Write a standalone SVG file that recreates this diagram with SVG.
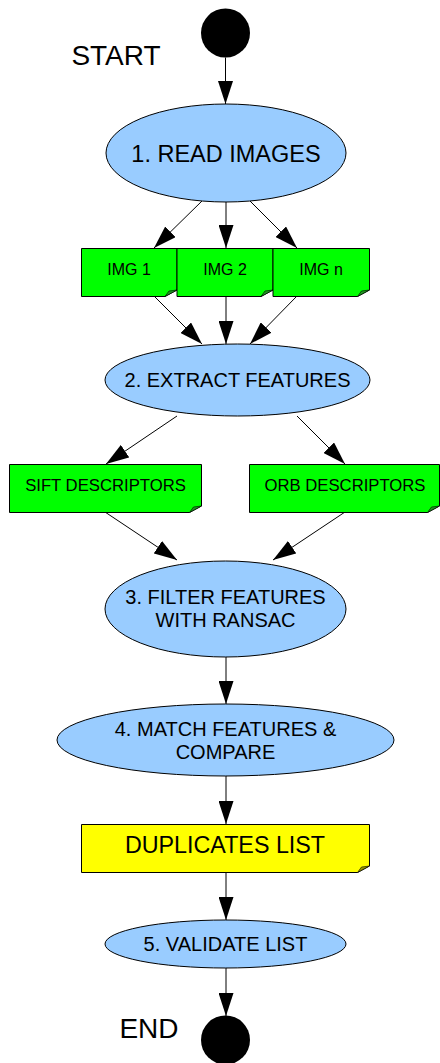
<svg xmlns="http://www.w3.org/2000/svg" width="440" height="1063" viewBox="0 0 440 1063">
<defs>
<style>
text{font-family:"Liberation Sans",Arial,sans-serif;fill:#000;text-anchor:middle}
.oval{fill:#99ccff;stroke:#000;stroke-width:1}
.doc{fill:#00ff00;stroke:#000;stroke-width:1}
.docy{fill:#ffff00;stroke:#000;stroke-width:1}
.fold{fill:#229922;stroke:#000;stroke-width:0.6}
.foldy{fill:#999900;stroke:#000;stroke-width:0.6}
.term{fill:#000}
.edge{stroke:#000;stroke-width:1;fill:none;marker-end:url(#arr)}
</style>
<marker id="arr" markerUnits="userSpaceOnUse" markerWidth="23" markerHeight="15" refX="23" refY="7.5" orient="auto">
<path d="M0,0 L23,7.5 L0,15 Z" fill="#000"/>
</marker>
</defs>
<rect width="440" height="1063" fill="#fff"/>
<g id="connectors">
<line class="edge" x1="225.5" y1="57.5" x2="225.5" y2="104"/>
<line class="edge" x1="203" y1="200" x2="154" y2="248"/>
<line class="edge" x1="226" y1="202" x2="226" y2="248"/>
<line class="edge" x1="249" y1="200" x2="297" y2="248"/>
<line class="edge" x1="154" y1="296" x2="202" y2="344"/>
<line class="edge" x1="226" y1="296" x2="226" y2="344"/>
<line class="edge" x1="297" y1="296" x2="250" y2="344"/>
<line class="edge" x1="177" y1="416" x2="106" y2="464"/>
<line class="edge" x1="297" y1="416" x2="345" y2="464"/>
<line class="edge" x1="105" y1="512" x2="177" y2="560"/>
<line class="edge" x1="345" y1="512" x2="273" y2="560"/>
<line class="edge" x1="226" y1="657" x2="226" y2="704"/>
<line class="edge" x1="226" y1="776" x2="226" y2="824"/>
<line class="edge" x1="226" y1="872" x2="226" y2="920"/>
<line class="edge" x1="226" y1="968" x2="226" y2="1016"/>
</g>
<g id="start">
<circle class="term" cx="225.5" cy="33" r="24.5"/>
<text x="116" y="65" font-size="28">START</text>
</g>
<g id="read-images">
<ellipse class="oval" cx="226" cy="153" rx="120" ry="49"/>
<text x="226" y="161.5" font-size="23.5">1. READ IMAGES</text>
</g>
<g id="img1">
<path class="doc" d="M81.5,248.5 H177 V290 L165,296.5 H81.5 Z"/>
<path class="fold" d="M165,296.5 L169,291 L177,290 Z"/>
<text x="129" y="275" font-size="16">IMG 1</text>
</g>
<g id="img2">
<path class="doc" d="M177,248.5 H273 V290 L261,296.5 H177 Z"/>
<path class="fold" d="M261,296.5 L265,291 L273,290 Z"/>
<text x="225" y="275" font-size="16">IMG 2</text>
</g>
<g id="imgn">
<path class="doc" d="M273,248.5 H369.5 V290 L357.5,296.5 H273 Z"/>
<path class="fold" d="M357.5,296.5 L361.5,291 L369.5,290 Z"/>
<text x="321" y="275" font-size="16">IMG n</text>
</g>
<g id="extract-features">
<ellipse class="oval" cx="237.5" cy="380" rx="132.5" ry="36"/>
<text x="237.5" y="387" font-size="20">2. EXTRACT FEATURES</text>
</g>
<g id="sift">
<path class="doc" d="M9.5,464.5 H201.5 V506 L189.5,512.5 H9.5 Z"/>
<path class="fold" d="M189.5,512.5 L193.5,507 L201.5,506 Z"/>
<text x="105.5" y="491" font-size="16.7">SIFT DESCRIPTORS</text>
</g>
<g id="orb">
<path class="doc" d="M249.5,464.5 H439.5 V506 L427.5,512.5 H249.5 Z"/>
<path class="fold" d="M427.5,512.5 L431.5,507 L439.5,506 Z"/>
<text x="345" y="491" font-size="16.7">ORB DESCRIPTORS</text>
</g>
<g id="filter-features">
<ellipse class="oval" cx="225.5" cy="609" rx="120.5" ry="48"/>
<text x="225.5" y="604" font-size="20">3. FILTER FEATURES</text>
<text x="225.5" y="626.5" font-size="20">WITH RANSAC</text>
</g>
<g id="match-features">
<ellipse class="oval" cx="225.5" cy="740" rx="168.5" ry="36"/>
<text x="225.5" y="736" font-size="20">4. MATCH FEATURES &amp;</text>
<text x="225.5" y="758.5" font-size="20">COMPARE</text>
</g>
<g id="duplicates-list">
<path class="docy" d="M81.5,824.5 H369.5 V866 L357.5,872.5 H81.5 Z"/>
<path class="foldy" d="M357.5,872.5 L361.5,867 L369.5,866 Z"/>
<text x="225" y="853" font-size="23.3">DUPLICATES LIST</text>
</g>
<g id="validate-list">
<ellipse class="oval" cx="225.5" cy="944" rx="120.5" ry="24"/>
<text x="225.5" y="950.5" font-size="20">5. VALIDATE LIST</text>
</g>
<g id="end">
<circle class="term" cx="225.5" cy="1040" r="24.5"/>
<text x="149" y="1038" font-size="28">END</text>
</g>
</svg>
